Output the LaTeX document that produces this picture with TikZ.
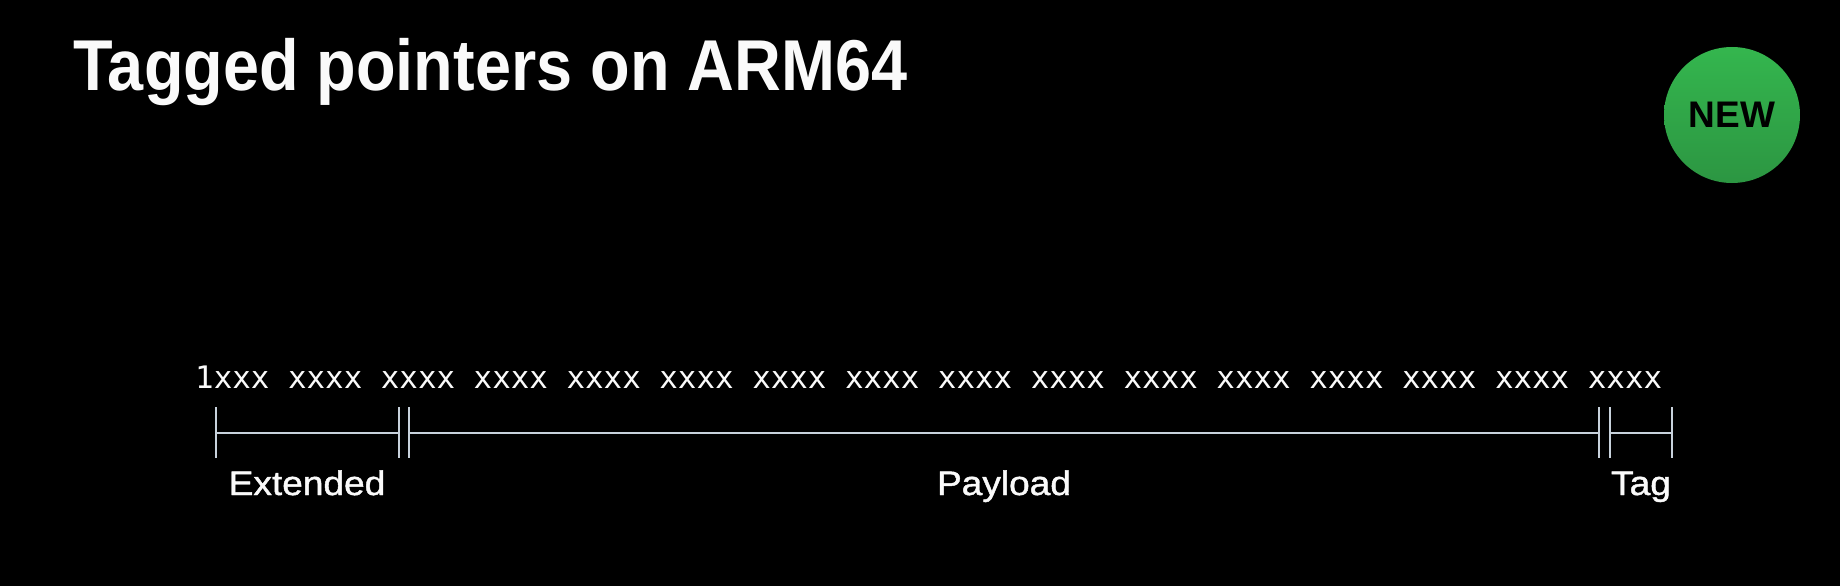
\documentclass[tikz,border=0pt]{standalone}
\usepackage{fontspec}
\setmainfont{Liberation Sans}
\newfontfamily\titlefont[FakeStretch=0.9]{Liberation Sans}
\newfontfamily\labelfont[FakeStretch=1.09,FakeBold=1.3]{Liberation Sans}
\newfontfamily\bitfont[FakeStretch=0.995]{DejaVu Sans Mono}
\definecolor{bracketgray}{RGB}{200,210,220}
\definecolor{badgetop}{RGB}{52,182,78}
\definecolor{badgebot}{RGB}{44,150,66}
\definecolor{textwhite}{RGB}{250,250,250}
\tikzset{
  titletext/.style={anchor=base west, inner sep=0pt, text=textwhite,
    font=\titlefont\bfseries\fontsize{72}{80}\selectfont},
  badge/.style={circle, minimum size=136pt, inner sep=0pt,
    top color=badgetop, bottom color=badgebot, text=black,
    font=\bfseries\fontsize{37}{40}\selectfont},
  bittext/.style={anchor=base west, inner sep=0pt, text=textwhite,
    font=\bitfont\fontsize{31}{34}\selectfont},
  fieldlabel/.style={anchor=base, inner sep=0pt, text=textwhite,
    font=\labelfont\fontsize{34}{38}\selectfont},
  bracketline/.style={draw=bracketgray, line width=2pt}
}
\begin{document}
\begin{tikzpicture}[x=1pt,y=-1pt]
\useasboundingbox[fill=black] (0,0) rectangle (1840,586);

\node[titletext] (title) at (73,90) {Tagged pointers on ARM64};
\node[badge] (new) at (1732,115) {NEW};

\node[bittext] (bits) at (195,388) {1xxx xxxx xxxx xxxx xxxx xxxx xxxx xxxx xxxx xxxx xxxx xxxx xxxx xxxx xxxx xxxx};

\foreach \n/\x in {a/216,b/399,c/408.5,d/1599,e/1610,f/1672} {
  \coordinate (\n top) at (\x,407);
  \coordinate (\n bot) at (\x,458);
  \coordinate (\n mid) at (\x,432.5);
}
\foreach \n in {a,b,c,d,e,f} {
  \draw[bracketline] (\n top) -- (\n bot);
}
\draw[bracketline] (amid) -- (bmid);
\draw[bracketline] (cmid) -- (dmid);
\draw[bracketline] (emid) -- (fmid);

\node[fieldlabel] (extended) at (307,495) {Extended};
\node[fieldlabel] (payload) at (1004,495) {Payload};
\node[fieldlabel] (tag) at (1641,495) {Tag};
\end{tikzpicture}
\end{document}
